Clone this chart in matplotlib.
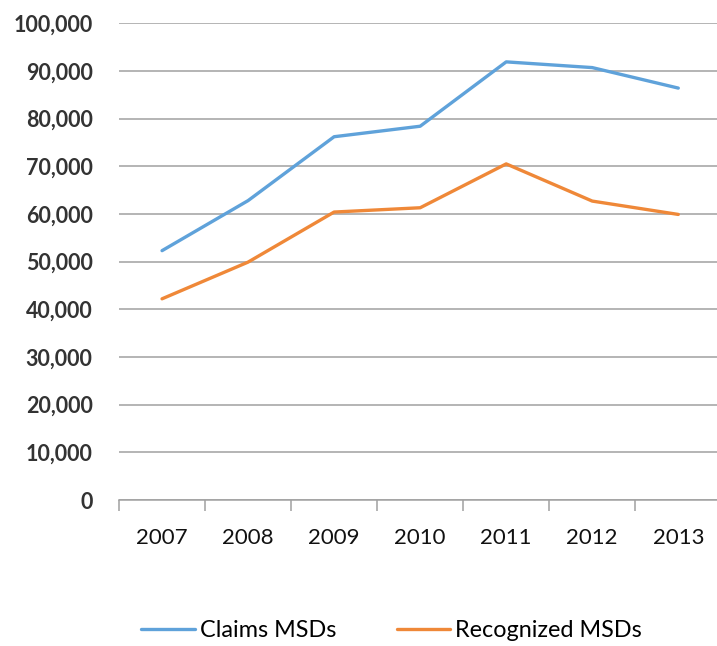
import numpy as np
import matplotlib
matplotlib.use("Agg")
import matplotlib.pyplot as plt
from matplotlib.ticker import FuncFormatter

plt.rcParams['font.family'] = ['Lato', 'DejaVu Sans']

years = ['2007', '2008', '2009', '2010', '2011', '2012', '2013']
claims = [52300, 62800, 76200, 78400, 91900, 90700, 86400]
recognized = [42200, 49900, 60400, 61300, 70500, 62700, 59900]

blue = '#5FA2DA'
orange = '#EF8838'
grid_color = '#A0A0A0'

fig = plt.figure(figsize=(7.17, 6.46), dpi=100)
ax = fig.add_axes([0.166, 0.226, 0.84, 0.738])

x = np.arange(len(years))
ax.plot(x, claims, color=blue, lw=2.4, label='Claims MSDs', solid_capstyle='round')
ax.plot(x, recognized, color=orange, lw=2.4, label='Recognized MSDs', solid_capstyle='round')

ax.set_ylim(0, 100000)
ax.set_xlim(-0.5, 6.5)
ax.set_yticks(np.arange(0, 100001, 10000))
ax.yaxis.set_major_formatter(FuncFormatter(lambda v, p: f'{int(v):,}'))
ax.grid(axis='y', color=grid_color, lw=1.1)
ax.set_axisbelow(True)

for s in ['top', 'right', 'left']:
    ax.spines[s].set_visible(False)
ax.spines['bottom'].set_color(grid_color)
ax.spines['bottom'].set_linewidth(1.1)

ax.tick_params(axis='y', length=0, pad=19, labelsize=15.5, labelcolor='#333333')
for lbl in ax.get_yticklabels():
    lbl.set_fontweight('bold')

ax.set_xticks(x)
ax.set_xticklabels(years)
ax.set_xticks(np.arange(-0.5, 6.5, 1.0), minor=True)
ax.tick_params(axis='x', which='major', length=0, pad=20, labelsize=16, labelcolor='#111111')
ax.tick_params(axis='x', which='minor', length=8, width=1.1, color=grid_color, direction='out')

fig.legend(loc='center', bbox_to_anchor=(0.546, 0.024), ncol=2, frameon=False,
           fontsize=16.8, handlelength=2.3, handletextpad=0.2, columnspacing=2.6)

fig.savefig('out.png', dpi=100)
